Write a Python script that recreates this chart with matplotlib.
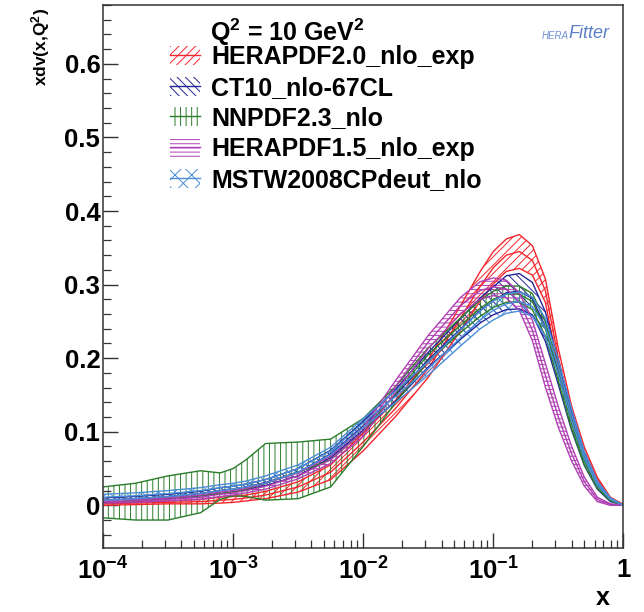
import numpy as np
import matplotlib
matplotlib.use("Agg")
import matplotlib.pyplot as plt
from matplotlib.patches import Patch
from matplotlib.lines import Line2D
from matplotlib.ticker import FixedLocator, LogLocator, MultipleLocator, FuncFormatter, NullFormatter

plt.rcParams['font.family'] = ['Liberation Sans', 'DejaVu Sans']
plt.rcParams['font.weight'] = 'bold'
plt.rcParams['mathtext.fontset'] = 'custom'
plt.rcParams['mathtext.rm'] = 'Liberation Sans:bold'
plt.rcParams['mathtext.it'] = 'Liberation Sans:bold'
plt.rcParams['mathtext.bf'] = 'Liberation Sans:bold'
plt.rcParams['mathtext.default'] = 'rm'
plt.rcParams['hatch.linewidth'] = 0.7

# x grid (log10 x)
log10_x = [-4, -3.75, -3.5, -3.25, -3.1, -3, -2.9, -2.75, -2.5, -2.25, -2, -1.75, -1.5, -1.25,
           -1.1, -1.0, -0.9, -0.8, -0.7, -0.6, -0.5, -0.4, -0.3, -0.2, -0.1, 0]

# HERAPDF2.0_nlo_exp
hera20_c = [0.002, 0.003, 0.004, 0.005, 0.007, 0.008, 0.010, 0.014, 0.025, 0.045, 0.086, 0.132, 0.186, 0.255,
            0.298, 0.323, 0.340, 0.345, 0.333, 0.292, 0.200, 0.127, 0.073, 0.035, 0.010, 0.001]
hera20_up = [0.004, 0.005, 0.006, 0.008, 0.011, 0.012, 0.014, 0.019, 0.032, 0.055, 0.098, 0.143, 0.198, 0.272,
             0.318, 0.345, 0.362, 0.368, 0.353, 0.308, 0.213, 0.136, 0.079, 0.038, 0.011, 0.001]
hera20_lo = [0.000, 0.001, 0.002, 0.002, 0.003, 0.004, 0.006, 0.009, 0.018, 0.035, 0.074, 0.121, 0.174, 0.238,
             0.278, 0.301, 0.318, 0.322, 0.313, 0.276, 0.187, 0.118, 0.067, 0.032, 0.009, 0.001]

# CT10_nlo-67CL
ct10_c = [0.007, 0.009, 0.012, 0.016, 0.020, 0.022, 0.025, 0.031, 0.045, 0.070, 0.108, 0.150, 0.198, 0.240,
          0.265, 0.278, 0.289, 0.291, 0.281, 0.243, 0.180, 0.115, 0.062, 0.026, 0.007, 0.000]
ct10_up = [0.010, 0.012, 0.015, 0.019, 0.024, 0.026, 0.029, 0.035, 0.050, 0.075, 0.114, 0.158, 0.208, 0.254,
           0.282, 0.297, 0.312, 0.315, 0.303, 0.263, 0.196, 0.127, 0.070, 0.030, 0.009, 0.000]
ct10_lo = [0.004, 0.006, 0.009, 0.013, 0.016, 0.018, 0.021, 0.027, 0.040, 0.065, 0.102, 0.142, 0.188, 0.226,
           0.248, 0.259, 0.266, 0.267, 0.259, 0.223, 0.164, 0.103, 0.054, 0.022, 0.005, 0.000]

# NNPDF2.3_nlo
nnpdf_c = [0.004, 0.006, 0.010, 0.013, 0.016, 0.018, 0.022, 0.030, 0.045, 0.062, 0.100, 0.152, 0.205, 0.245,
           0.268, 0.280, 0.287, 0.287, 0.277, 0.240, 0.178, 0.112, 0.060, 0.026, 0.007, 0.000]
nnpdf_up = [0.025, 0.030, 0.040, 0.047, 0.044, 0.050, 0.062, 0.084, 0.086, 0.090, 0.118, 0.162, 0.214, 0.255,
            0.279, 0.291, 0.298, 0.298, 0.288, 0.250, 0.187, 0.119, 0.065, 0.029, 0.008, 0.000]
nnpdf_lo = [-0.017, -0.020, -0.020, -0.010, 0.008, 0.013, 0.012, 0.007, 0.009, 0.025, 0.080, 0.140, 0.196, 0.235,
            0.257, 0.269, 0.276, 0.276, 0.266, 0.230, 0.169, 0.105, 0.055, 0.023, 0.006, 0.000]

# HERAPDF1.5_nlo_exp
hera15_c = [0.005, 0.006, 0.008, 0.011, 0.015, 0.017, 0.020, 0.026, 0.040, 0.062, 0.100, 0.162, 0.222, 0.272,
            0.292, 0.297, 0.294, 0.277, 0.238, 0.177, 0.120, 0.071, 0.032, 0.008, 0.001, 0.000]
hera15_up = [0.007, 0.008, 0.010, 0.014, 0.018, 0.020, 0.023, 0.030, 0.044, 0.067, 0.106, 0.170, 0.231, 0.283,
             0.304, 0.309, 0.306, 0.289, 0.252, 0.193, 0.134, 0.081, 0.038, 0.011, 0.002, 0.000]
hera15_lo = [0.003, 0.004, 0.006, 0.008, 0.012, 0.014, 0.017, 0.022, 0.036, 0.057, 0.094, 0.154, 0.213, 0.261,
             0.280, 0.285, 0.282, 0.265, 0.224, 0.161, 0.106, 0.061, 0.026, 0.005, 0.000, 0.000]

# MSTW2008CPdeut_nlo
mstw_c = [0.011, 0.013, 0.016, 0.020, 0.024, 0.026, 0.029, 0.035, 0.050, 0.074, 0.112, 0.148, 0.186, 0.228,
          0.252, 0.265, 0.274, 0.277, 0.270, 0.242, 0.188, 0.124, 0.068, 0.030, 0.009, 0.000]
mstw_up = [0.015, 0.017, 0.020, 0.024, 0.028, 0.030, 0.033, 0.040, 0.055, 0.079, 0.118, 0.156, 0.195, 0.239,
           0.264, 0.278, 0.287, 0.290, 0.283, 0.254, 0.198, 0.132, 0.073, 0.033, 0.010, 0.000]
mstw_lo = [0.007, 0.009, 0.012, 0.016, 0.020, 0.022, 0.025, 0.030, 0.045, 0.069, 0.106, 0.140, 0.177, 0.217,
           0.240, 0.252, 0.261, 0.264, 0.257, 0.230, 0.178, 0.116, 0.063, 0.027, 0.008, 0.000]

labels = ['HERAPDF2.0_nlo_exp', 'CT10_nlo-67CL', 'NNPDF2.3_nlo',
          'HERAPDF1.5_nlo_exp', 'MSTW2008CPdeut_nlo']
colors = ['#f4262c', '#26279a', '#2b7d2b', '#b03fb3', '#4a8ed8']
hatches = ['////', '\\\\\\\\', '|||', '----', 'xx']
series = [(hera20_c, hera20_up, hera20_lo), (ct10_c, ct10_up, ct10_lo),
          (nnpdf_c, nnpdf_up, nnpdf_lo), (hera15_c, hera15_up, hera15_lo),
          (mstw_c, mstw_up, mstw_lo)]

xtick_vals = [1e-4, 1e-3, 1e-2, 1e-1, 1]
xtick_labels = ['10$^{-4}$', '10$^{-3}$', '10$^{-2}$', '10$^{-1}$', '1']

x = 10.0 ** np.array(log10_x)

fig = plt.figure(figsize=(6.44, 6.12), dpi=100)
ax = fig.add_axes([0.160, 0.1046, 0.808, 0.8872])

for (c, up, lo), col, h in zip(series, colors, hatches):
    ax.fill_between(x, lo, up, facecolor='none', edgecolor=col, hatch=h, linewidth=0)
    ax.plot(x, up, color=col, lw=1.0)
    ax.plot(x, lo, color=col, lw=1.0)
    ax.plot(x, c, color=col, lw=1.0)

ax.set_xscale('log')
ax.set_xlim(1e-4, 1)
ax.set_ylim(-0.058, 0.68)

ax.xaxis.set_major_locator(FixedLocator(xtick_vals))
ax.set_xticklabels(xtick_labels)
ax.xaxis.set_minor_locator(LogLocator(base=10, subs=np.arange(2, 10)))
ax.xaxis.set_minor_formatter(NullFormatter())
ax.yaxis.set_major_locator(MultipleLocator(0.1))
ax.yaxis.set_minor_locator(MultipleLocator(0.02))
ax.yaxis.set_major_formatter(FuncFormatter(lambda v, p: '0' if abs(v) < 1e-9 else '%.1f' % v))

ax.tick_params(which='both', direction='in', top=False, right=False, color='#333333')
ax.tick_params(which='major', length=11, width=1.0, labelsize=18.5)
ax.tick_params(which='minor', length=6, width=0.9)
ax.tick_params(axis='x', which='major', pad=7)
ax.tick_params(axis='y', which='major', pad=2)
for sp in ax.spines.values():
    sp.set_color('#333333')
    sp.set_linewidth(1.1)

# legend title and entries
fig.text(210 / 644, 1 - 32 / 612, 'Q$^{2}$ = 10 GeV$^{2}$', ha='left', va='center',
         fontsize=18, fontweight='bold')
handles = []
for col, h in zip(colors, hatches):
    handles.append((Patch(facecolor='none', edgecolor=col, hatch=h, linewidth=0),
                    Line2D([], [], color=col, lw=1.0)))
leg = ax.legend(handles, labels,
                loc='upper left', bbox_to_anchor=(170 / 644, 1 - 45 / 612),
                bbox_transform=fig.transFigure, frameon=False,
                prop={'family': 'Liberation Sans', 'weight': 'bold', 'size': 18},
                handlelength=1.2, handleheight=0.8, handletextpad=0.45,
                labelspacing=0.27, borderaxespad=0, borderpad=0)

fig.text(41 / 644, 1 - 8 / 612, 'xdv(x,Q$^{2}$)', rotation=90, ha='center', va='top',
         fontsize=12.5, fontweight='bold')
fig.text(603 / 644, 1 - 598 / 612, 'x', ha='center', va='center', fontsize=18, fontweight='bold')

# HERAFitter logo
fig.text(555 / 644, 1 - 36 / 612, 'HERA', ha='center', va='center', fontsize=7,
         style='italic', fontweight='normal', color='#6f8fd0')
fig.text(589 / 644, 1 - 33 / 612, 'Fitter', ha='center', va='center', fontsize=13,
         style='italic', fontweight='normal', color='#5a7fc8')

fig.savefig('out.png', dpi=100)
